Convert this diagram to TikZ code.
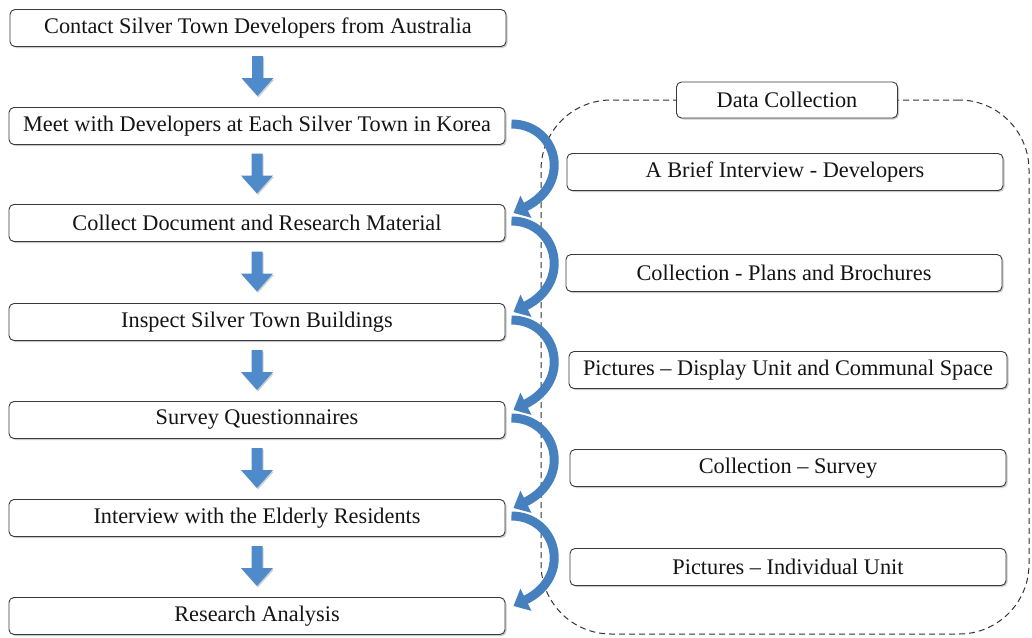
\documentclass[tikz,border=0pt]{standalone}
\usepackage{fontspec}
\setmainfont{Liberation Serif}
\usetikzlibrary{shadows,calc,arrows.meta}
\definecolor{arrowblue}{HTML}{4F8BCB}
\definecolor{curveblue}{HTML}{4680BE}
\definecolor{boxline}{HTML}{3A3A3A}
\begin{document}
\begin{tikzpicture}[x=1pt,y=-1pt,
  box/.style={draw=boxline, line width=0.9pt, rounded corners=5pt, fill=white,
    minimum height=37pt, inner sep=0pt, font=\fontsize{22.3}{24}\selectfont, text=black!92,
    drop shadow={shadow xshift=1.5pt, shadow yshift=-1.5pt, opacity=0.35, fill=black!60}},
  lbox/.style={box, minimum width=496pt},
  rbox/.style={box, minimum width=436pt},
  frame/.style={draw=black!80, line width=1pt, dash pattern=on 6pt off 4pt, rounded corners=70pt, inner sep=0pt},
  downarrow/.style={fill=arrowblue, drop shadow={shadow xshift=1pt, shadow yshift=-1.5pt, opacity=0.3, fill=black!60}},
  curvearrow/.style={draw=curveblue, line width=9pt, -{Triangle[width=24pt,length=14pt]}}
]
\useasboundingbox (0,0) rectangle (1032,637);

% dashed frame
\node[frame, minimum width=488pt, minimum height=534pt] (frame) at (785,367) {};

% left column
\node[lbox] (c1) at (258,28)  {Contact Silver Town Developers from Australia};
\node[lbox] (c2) at (257,126) {Meet with Developers at Each Silver Town in Korea};
\node[lbox] (c3) at (257,223) {Collect Document and Research Material};
\node[lbox] (c4) at (257,322) {Inspect Silver Town Buildings};
\node[lbox] (c5) at (257,420) {Survey Questionnaires};
\node[lbox] (c6) at (257,518) {Interview with the Elderly Residents};
\node[lbox] (c7) at (257,616) {Research Analysis};

% right column
\node[box, minimum width=221pt, minimum height=36pt] (dc) at (787,100) {Data Collection};
\node[rbox] (r1) at (785,172) {A Brief Interview - Developers};
\node[rbox] (r2) at (784,273) {Collection - Plans and Brochures};
\node[rbox, minimum width=438pt] (r3) at (788,370) {Pictures – Display Unit and Communal Space};
\node[rbox] (r4) at (788,468) {Collection – Survey};
\node[rbox] (r5) at (788,567) {Pictures – Individual Unit};

% down block arrows
\foreach \a/\b in {c1/c2,c2/c3,c3/c4,c4/c5,c5/c6,c6/c7}{
  \coordinate (m) at ($(\a.south)!0.5!(\b.north)$);
  \path[downarrow] ($(m)+(-5.5,-21)$) -- ($(m)+(5.5,-21)$) -- ($(m)+(5.5,1)$) -- ($(m)+(16,1)$)
     -- ($(m)+(0,19)$) -- ($(m)+(-16,1)$) -- ($(m)+(-5.5,1)$) -- cycle;
}

% curved arrows
\foreach \a/\b in {c2/c3,c3/c4,c4/c5,c5/c6,c6/c7}{
  \draw[curvearrow] ($(\a.east)+(6,-2)$) .. controls +(45,0) and +(60,-30) .. ($(\b.east)+(8,-10)$);
}
\end{tikzpicture}
\end{document}
